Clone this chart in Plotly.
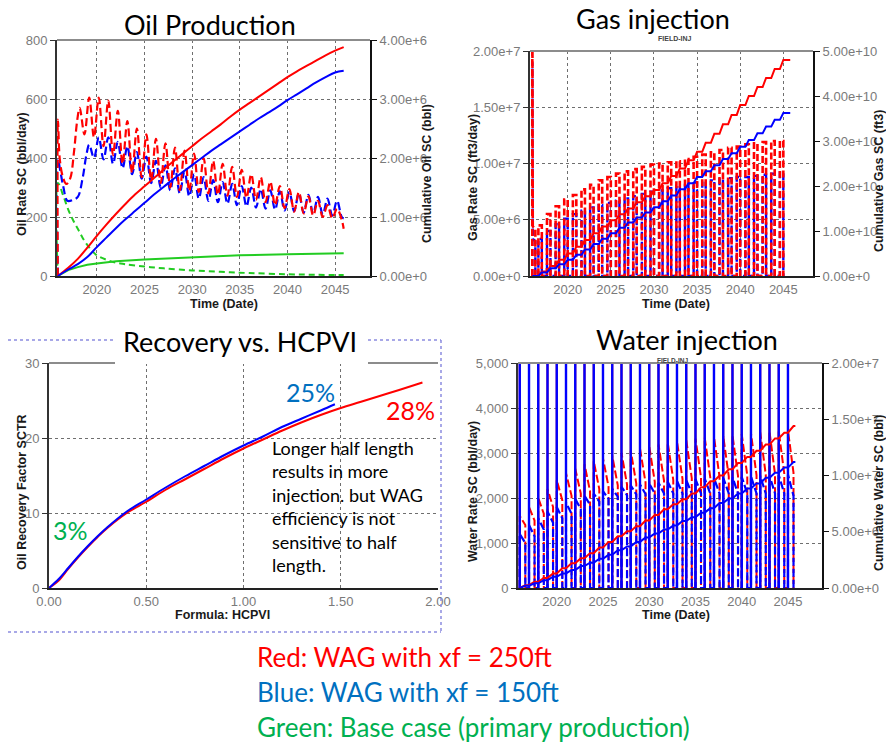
import plotly.graph_objects as go

W, H = 886, 745

# ======================= DATA =======================
# --- Oil production: rates (bbl/day) ---
oil_red_early_t = [2015.9, 2015.92, 2016.1, 2016.4, 2016.8, 2017.2, 2017.6, 2017.95]
oil_red_early = [0, 530, 400, 340, 312, 330, 420, 530]
oil_red_years = list(range(2018, 2046))
oil_red_peak = [570, 605, 605, 595, 560, 525, 500, 480, 465, 450, 435, 425, 415, 400, 390,
                380, 370, 360, 345, 335, 320, 305, 295, 285, 270, 255, 240, 228]
oil_red_trough = [480, 470, 440, 410, 380, 350, 335, 325, 315, 300, 290, 288, 285, 280, 275,
                  272, 268, 265, 258, 250, 240, 230, 218, 212, 205, 200, 195, 190]
oil_red_end_t, oil_red_end = 2045.9, 160

oil_blue_early_t = [2015.9, 2015.92, 2016.2, 2016.5, 2016.9, 2017.5, 2018.0, 2018.5, 2018.9]
oil_blue_early = [0, 395, 350, 300, 255, 258, 268, 330, 410]
oil_blue_years = list(range(2019, 2046))
oil_blue_peak = [445, 470, 470, 455, 440, 420, 405, 390, 375, 365, 355, 345, 335, 325, 318,
                 312, 305, 300, 295, 290, 287, 285, 280, 275, 268, 262, 255]
oil_blue_trough = [400, 395, 380, 365, 345, 330, 315, 300, 290, 280, 270, 262, 255, 250, 245,
                   240, 236, 232, 228, 225, 222, 220, 215, 212, 208, 205, 200]
oil_blue_end_t, oil_blue_end = 2045.9, 195

oil_green_t = [2015.9, 2015.92, 2016.5, 2017, 2017.5, 2018, 2018.5, 2019, 2019.5, 2020, 2021,
               2022, 2023, 2025, 2027, 2030, 2033, 2036, 2040, 2043, 2045.9]
oil_green = [0, 315, 270, 225, 190, 160, 130, 105, 85, 70, 55, 45, 40, 32, 26, 19, 14, 10, 6, 4, 3]

# --- Oil production: cumulative (bbl) ---
cum_oil_t = [2015.9] + list(range(2017, 2046)) + [2045.9]
cum_oil_red = [0, 0.14, 0.29, 0.48, 0.68, 0.87, 1.05, 1.22, 1.38, 1.52, 1.66, 1.80, 1.94, 2.07,
               2.20, 2.33, 2.45, 2.57, 2.70, 2.82, 2.93, 3.04, 3.15, 3.26, 3.37, 3.47, 3.56,
               3.65, 3.74, 3.82, 3.88]
cum_oil_blue = [0, 0.11, 0.20, 0.32, 0.49, 0.65, 0.81, 0.96, 1.10, 1.24, 1.38, 1.51, 1.64, 1.76,
                1.88, 2.00, 2.12, 2.23, 2.34, 2.45, 2.56, 2.67, 2.77, 2.87, 2.98, 3.08, 3.18,
                3.28, 3.37, 3.45, 3.48]
cum_oil_green_t = [2015.9, 2016.5, 2017, 2018, 2019, 2020, 2022, 2025, 2030, 2035, 2040, 2045.9]
cum_oil_green = [0, 0.06, 0.10, 0.15, 0.19, 0.21, 0.25, 0.28, 0.32, 0.35, 0.37, 0.385]

# --- Gas injection (ft3/day, cumulative ft3) ---
gas_red_init_t = [2015.9, 2015.9, 2015.95, 2016.25, 2016.25]
gas_red_init = [0, 2.6e7, 4.4e6, 4.2e6, 0]
gas_blue_init_t = [2015.9, 2015.9, 2015.95, 2016.25, 2016.25]
gas_blue_init = [0, 1.9e7, 3.3e6, 3.1e6, 0]
gas_years = list(range(2016, 2045))
gas_red_peak = [4.5, 5.5, 6.2, 6.8, 7.2, 7.7, 8.1, 8.5, 8.8, 9.1, 9.3, 9.5, 9.7, 9.9, 10.0,
                10.1, 10.2, 10.4, 10.6, 10.8, 11.0, 11.2, 11.4, 11.5, 11.7, 11.8, 11.9, 12.0, 12.0]
gas_blue_peak = [3.3, 4.0, 4.6, 5.1, 5.5, 5.8, 6.1, 6.3, 6.5, 6.7, 6.9, 7.1, 7.3, 7.5, 7.6,
                 7.8, 8.0, 8.1, 8.3, 8.4, 8.5, 8.6, 8.7, 8.8, 8.8, 8.9, 9.0, 9.1, 9.2]
cum_gas_red = [0, 0.10, 0.22, 0.36, 0.50, 0.65, 0.80, 0.95, 1.10, 1.24, 1.37, 1.50, 1.64, 1.77,
               1.91, 2.06, 2.22, 2.39, 2.57, 2.76, 2.96, 3.16, 3.37, 3.58, 3.80, 4.00, 4.20,
               4.40, 4.60, 4.80]
cum_gas_blue = [0, 0.08, 0.17, 0.26, 0.36, 0.47, 0.59, 0.71, 0.83, 0.95, 1.07, 1.19, 1.30, 1.41,
                1.53, 1.66, 1.79, 1.93, 2.06, 2.20, 2.33, 2.46, 2.60, 2.73, 2.87, 3.02, 3.17,
                3.32, 3.47, 3.62]
gas_end_t = 2045.8

# --- Water injection (bbl/day, cumulative bbl) ---
water_years = list(range(2016, 2046))
water_spike = 9000
water_red_start = [1600, 1800, 2000, 2200, 2400, 2550, 2650, 2750, 2820, 2880, 2940, 3000, 3050,
                   3100, 3150, 3190, 3230, 3260, 3290, 3320, 3340, 3360, 3380, 3400, 3420, 3440,
                   3460, 3480, 3490, 3500]
water_red_end = [1400, 1500, 1650, 1800, 1950, 2050, 2100, 2150, 2200, 2250, 2280, 2300, 2320,
                 2340, 2360, 2380, 2400, 2420, 2440, 2450, 2460, 2470, 2480, 2490, 2500, 2510,
                 2520, 2530, 2540, 2560]
water_blue_start = [1200, 1400, 1550, 1700, 1800, 1900, 1980, 2050, 2100, 2150, 2200, 2250, 2280,
                    2300, 2320, 2340, 2360, 2380, 2400, 2420, 2430, 2440, 2450, 2460, 2470, 2480,
                    2490, 2500, 2510, 2520]
water_blue_end = [1000, 1150, 1300, 1450, 1550, 1650, 1750, 1850, 1920, 1980, 2030, 2060, 2080,
                  2090, 2100, 2100, 2100, 2100, 2100, 2100, 2100, 2100, 2100, 2100, 2100, 2100,
                  2100, 2100, 2100, 2050]
cum_water_red = [0, 0.25, 0.55, 0.90, 1.30, 1.75, 2.20, 2.65, 3.10, 3.60, 4.10, 4.60, 5.05, 5.50,
                 6.00, 6.50, 7.00, 7.45, 7.90, 8.40, 8.95, 9.50, 10.00, 10.55, 11.10, 11.65,
                 12.20, 12.75, 13.30, 13.80, 14.40]
cum_water_blue = [0, 0.20, 0.42, 0.70, 1.00, 1.30, 1.60, 1.95, 2.25, 2.60, 2.95, 3.35, 3.70,
                  4.10, 4.50, 4.85, 5.20, 5.55, 5.95, 6.30, 6.70, 7.10, 7.55, 7.95, 8.40, 8.85,
                  9.30, 9.80, 10.25, 10.70, 11.20]
water_end_t = 2045.8

# --- Recovery vs HCPVI ---
hcpvi_blue = [0, 0.05, 0.1, 0.15, 0.2, 0.25, 0.3, 0.4, 0.5, 0.6, 0.7, 0.8, 0.9, 1.0, 1.1, 1.2,
              1.3, 1.4, 1.47]
rf_blue = [0, 1.2, 2.7, 4.2, 5.6, 6.9, 8.1, 10.2, 11.8, 13.4, 14.9, 16.3, 17.7, 19.0, 20.2, 21.5,
           22.6, 23.7, 24.5]
hcpvi_red = [0, 0.05, 0.1, 0.15, 0.2, 0.25, 0.3, 0.4, 0.5, 0.6, 0.7, 0.8, 0.9, 1.0, 1.1, 1.2,
             1.3, 1.4, 1.5, 1.6, 1.7, 1.8, 1.92]
rf_red = [0, 1.0, 2.6, 4.1, 5.5, 6.8, 8.0, 10.0, 11.5, 13.1, 14.5, 15.9, 17.3, 18.6, 19.8, 21.0,
          22.1, 23.1, 24.0, 24.8, 25.6, 26.4, 27.4]

# tick labels
year_ticks = [2020, 2025, 2030, 2035, 2040, 2045]

# ======================= BUILD SERIES =======================
def px(x):
    return x / W


def py(y):
    return 1 - y / H


def osc(early_t, early_v, years, peaks, troughs, end_t, end_v):
    t, v = list(early_t), list(early_v)
    for yr, p, tr in zip(years, peaks, troughs):
        t += [yr + 0.2, yr + 0.7]
        v += [p, tr]
    t.append(end_t)
    v.append(end_v)
    return t, v


def gas_steps(init_t, init_v, years, peaks):
    t, v = list(init_t), list(init_v)
    for yr, p in zip(years, peaks):
        t += [yr + 0.6, yr + 0.6, yr + 1.0, yr + 1.0]
        v += [0, p * 1e6, p * 1e6, 0]
    return t, v


def gas_cum(years, cum, end_t):
    t, v = [2015.9], [0]
    for i, yr in enumerate(years):
        t += [yr + 0.6, yr + 1.0]
        v += [cum[i] * 1e10, cum[i + 1] * 1e10]
    t.append(end_t)
    v.append(cum[-1] * 1e10)
    return t, v


def water_steps(years, s, e):
    t, v = [], []
    for yr, a, b in zip(years, s, e):
        t += [yr, yr, yr + 0.6, yr + 0.6]
        v += [0, a, b, 0]
    return t, v


def water_spikes(years):
    t, v = [], []
    for yr in years:
        t += [yr, yr, None]
        v += [0, water_spike, None]
    return t, v


def water_cum(years, cum, end_t):
    t, v = [2015.9], [0]
    for i, yr in enumerate(years):
        t += [yr, yr + 0.6]
        v += [cum[i] * 1e6, cum[i + 1] * 1e6]
    t.append(end_t)
    v.append(cum[-1] * 1e6)
    return t, v


RED, BLUE, GREEN = "#FF0000", "#0000FF", "#22CC22"
TXT_RED, TXT_BLUE, TXT_GREEN = "#FF0000", "#0070C0", "#00B050"
TITLE_FONT = "Lato, 'Open Sans', sans-serif"
AX_FONT = "'Liberation Sans', Arial, sans-serif"
TICKFONT = dict(family=AX_FONT, size=13, color="#7a7a7a")

fig = go.Figure()


def line(x, y, xa, ya, color, width=2, dash=None, shape="linear"):
    ln = dict(color=color, width=width, shape=shape)
    if dash:
        ln["dash"] = dash
    fig.add_trace(go.Scatter(x=x, y=y, xaxis=xa, yaxis=ya, mode="lines", line=ln,
                             showlegend=False, hoverinfo="skip", connectgaps=False))


# ---- Oil production ----
line(oil_green_t, oil_green, "x", "y", GREEN, 2, "6px,4px", "spline")
line(cum_oil_green_t, [v * 1e6 for v in cum_oil_green], "x", "y2", GREEN, 2)
bt, bv = osc(oil_blue_early_t, oil_blue_early, oil_blue_years, oil_blue_peak, oil_blue_trough,
             oil_blue_end_t, oil_blue_end)
line(bt, bv, "x", "y", BLUE, 2.2, "8px,4px", "spline")
rt, rv = osc(oil_red_early_t, oil_red_early, oil_red_years, oil_red_peak, oil_red_trough,
             oil_red_end_t, oil_red_end)
line(rt, rv, "x", "y", RED, 2.2, "8px,4px", "spline")
line(cum_oil_t, [v * 1e6 for v in cum_oil_red], "x", "y2", RED, 2, shape="spline")
line(cum_oil_t, [v * 1e6 for v in cum_oil_blue], "x", "y2", BLUE, 2, shape="spline")

# ---- Gas injection ----
gbt, gbv = gas_steps(gas_blue_init_t, gas_blue_init, gas_years, gas_blue_peak)
line(gbt, gbv, "x2", "y3", BLUE, 2.4, "7px,3px")
grt, grv = gas_steps(gas_red_init_t, gas_red_init, gas_years, gas_red_peak)
line(grt, grv, "x2", "y3", RED, 2.6, "7px,3px")
ct, cv = gas_cum(gas_years, cum_gas_red, gas_end_t)
line(ct, cv, "x2", "y4", RED, 2)
ct, cv = gas_cum(gas_years, cum_gas_blue, gas_end_t)
line(ct, cv, "x2", "y4", BLUE, 2)

# ---- Recovery ----
line(hcpvi_red, rf_red, "x3", "y5", RED, 2, shape="spline")
line(hcpvi_blue, rf_blue, "x3", "y5", BLUE, 2, shape="spline")

# ---- Water injection ----
st, sv = water_spikes(water_years)
line(st, sv, "x4", "y6", RED, 2)
wrt, wrv = water_steps(water_years, water_red_start, water_red_end)
line(wrt, wrv, "x4", "y6", RED, 2, "8px,3px")
wbt, wbv = water_steps(water_years, water_blue_start, water_blue_end)
line(wbt, wbv, "x4", "y6", BLUE, 2.2, "8px,3px")
line(st, sv, "x4", "y6", BLUE, 2.4)
ct, cv = water_cum(water_years, cum_water_red, water_end_t)
line(ct, cv, "x4", "y7", RED, 2)
ct, cv = water_cum(water_years, cum_water_blue, water_end_t)
line(ct, cv, "x4", "y7", BLUE, 2)


# ======================= AXES =======================
def xax(x0, x1, y_anchor, rng, tickvals, fmt=None):
    d = dict(domain=[px(x0), px(x1)], range=rng, tickvals=tickvals, anchor=y_anchor,
             showgrid=True, gridcolor="#6f6f6f", griddash="dot", gridwidth=1,
             showline=True, linecolor="#222222", linewidth=2, zeroline=False,
             ticks="", tickfont=TICKFONT, automargin=False, fixedrange=True)
    if fmt:
        d["tickformat"] = fmt
    return d


def yax(y0, y1, x_anchor, rng, tickvals, fmt=None):
    d = dict(domain=[py(y1), py(y0)], range=rng, tickvals=tickvals, anchor=x_anchor,
             showgrid=True, gridcolor="#6f6f6f", griddash="dot", gridwidth=1,
             showline=True, linecolor="#333333", linewidth=2, zeroline=False,
             ticks="outside", ticklen=5, tickcolor="#333333", tickfont=TICKFONT,
             automargin=False, fixedrange=True)
    if fmt:
        d["tickformat"] = fmt
    return d


def y2ax(over, x_anchor, rng, tickvals, fmt):
    return dict(overlaying=over, side="right", anchor=x_anchor, range=rng, tickvals=tickvals,
                tickformat=fmt, showgrid=False, showline=True, linecolor="#111111",
                linewidth=2, zeroline=False, ticks="outside", ticklen=5, tickcolor="#111111",
                tickfont=TICKFONT, automargin=False, fixedrange=True)


layout = dict(
    width=W, height=H, autosize=False, template="none",
    margin=dict(l=0, r=0, t=0, b=0), paper_bgcolor="white", plot_bgcolor="white",
    showlegend=False,
    # oil
    xaxis=xax(57, 370, "y", [2015.82, 2048.66], year_ticks),
    yaxis=yax(40, 276, "x", [0, 800], [0, 200, 400, 600, 800]),
    yaxis2=y2ax("y", "x", [0, 4e6], [0, 1e6, 2e6, 3e6, 4e6], ".2e"),
    # gas
    xaxis2=xax(530, 813, "y3", [2015.63, 2048.44], year_ticks),
    yaxis3=yax(51, 276, "x2", [0, 2e7], [0, 5e6, 1e7, 1.5e7, 2e7], ".2e"),
    yaxis4=y2ax("y3", "x2", [0, 5e10], [0, 1e10, 2e10, 3e10, 4e10, 5e10], ".2e"),
    # recovery
    xaxis3=xax(49, 438, "y5", [0, 2.0], [0, 0.5, 1.0, 1.5, 2.0], ".2f"),
    yaxis5=yax(363, 588, "x3", [0, 30], [0, 10, 20, 30]),
    # water
    xaxis4=xax(518, 822, "y6", [2015.81, 2048.68], year_ticks),
    yaxis6=yax(363, 588, "x4", [0, 5000], [0, 1000, 2000, 3000, 4000, 5000], ","),
    yaxis7=y2ax("y6", "x4", [0, 2e7], [0, 5e6, 1e7, 1.5e7, 2e7], ".2e"),
)
fig.update_layout(**layout)

# ======================= SHAPES =======================
shapes = []
for xa, ya in [("x", "y"), ("x2", "y3"), ("x3", "y5"), ("x4", "y6")]:
    shapes.append(dict(type="line", xref=f"{xa} domain", yref=f"{ya} domain", x0=0, x1=1,
                       y0=1, y1=1, line=dict(color="#8c8c8c", width=2), layer="above"))
FRAME = dict(color="#8c8ce0", width=1.5, dash="dot")
shapes.append(dict(type="line", xref="paper", yref="paper", x0=px(8), x1=px(441),
                   y0=py(340), y1=py(340), line=FRAME, layer="above"))
shapes.append(dict(type="line", xref="paper", yref="paper", x0=px(441), x1=px(441),
                   y0=py(340), y1=py(632), line=FRAME, layer="above"))
shapes.append(dict(type="line", xref="paper", yref="paper", x0=px(8), x1=px(441),
                   y0=py(632), y1=py(632), line=FRAME, layer="above"))
shapes.append(dict(type="rect", xref="paper", yref="paper", x0=px(115), x1=px(368),
                   y0=py(364), y1=py(322), line=dict(width=0), fillcolor="white",
                   layer="above"))
fig.update_layout(shapes=shapes)

# ======================= ANNOTATIONS =======================
ann = []


def text(x, y, s, size, color="black", family=TITLE_FONT, angle=0, xanchor="center",
         align="center"):
    ann.append(dict(x=px(x), y=py(y), xref="paper", yref="paper", text=s, showarrow=False,
                    xanchor=xanchor, yanchor="middle", textangle=angle, align=align,
                    font=dict(family=family, size=size, color=color)))


# titles
text(210, 25, "Oil Production", 27)
text(653, 18, "Gas injection", 27)
text(675, 39, "<b>FIELD-INJ</b>", 7, "#444444", AX_FONT)
text(672, 360, "<b>FIELD-INJ</b>", 6.5, "#444444", AX_FONT)
text(687, 339, "Water injection", 27)
text(240, 342, "Recovery vs. HCPVI", 27)

# axis titles
AXT = dict(size=12.5, color="#1a1a1a", family=AX_FONT)
text(22, 174, "<b>Oil Rate SC (bbl/day)</b>", angle=-90, **AXT)
text(427, 174, "<b>Cumulative Oil SC (bbl)</b>", angle=-90, **AXT)
text(224, 304, "<b>Time (Date)</b>", **AXT)
text(473, 178, "<b>Gas Rate SC (ft3/day)</b>", angle=-90, **AXT)
text(879, 181, "<b>Cumulative Gas SC (ft3)</b>", angle=-90, **AXT)
text(676, 304, "<b>Time (Date)</b>", **AXT)
text(22, 492, "<b>Oil Recovery Factor SCTR</b>", angle=-90, **AXT)
text(223, 615, "<b>Formula: HCPVI</b>", **AXT)
text(473, 492, "<b>Water Rate SC (bbl/day)</b>", angle=-90, **AXT)
text(879, 493, "<b>Cumulative Water SC (bbl)</b>", angle=-90, **AXT)
text(676, 615, "<b>Time (Date)</b>", **AXT)

# recovery labels
text(310, 392, "25%", 25, TXT_BLUE)
text(410, 410, "28%", 25, TXT_RED)
text(70, 530, "3%", 25, TXT_GREEN)
text(270, 506, "Longer half length<br>results in more<br>injection. but WAG<br>"
     "efficiency is not<br>sensitive to half<br>length.", 18, "black", xanchor="left",
     align="left")

# legend text
text(255, 657, "Red: WAG with xf = 250ft", 26, TXT_RED, xanchor="left", align="left")
text(255, 692, "Blue: WAG with xf = 150ft", 26, TXT_BLUE, xanchor="left", align="left")
text(255, 727, "Green: Base case (primary production)", 26, TXT_GREEN, xanchor="left",
     align="left")

fig.update_layout(annotations=ann)
fig.write_html("out.html")
